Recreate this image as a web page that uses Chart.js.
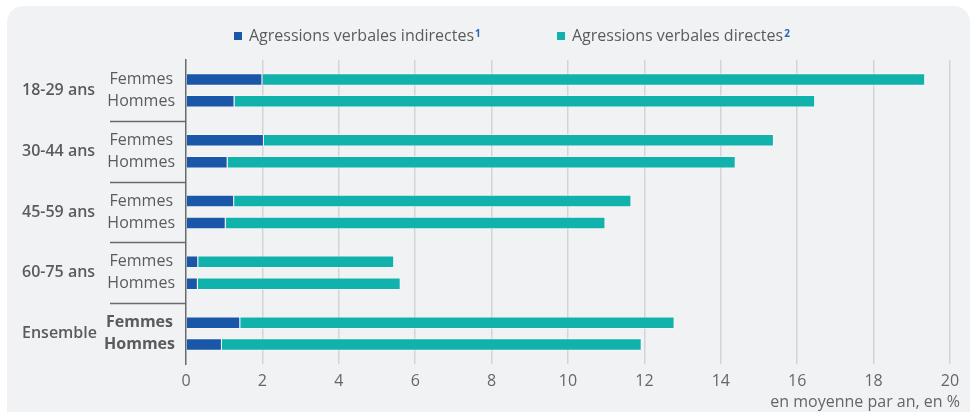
<!DOCTYPE html>
<html>
<head>
<meta charset="utf-8">
<script src="https://cdn.jsdelivr.net/npm/chart.js@4.4.1/dist/chart.umd.min.js"></script>
<style>
  html, body { margin: 0; padding: 0; background: #ffffff; }
  #wrap { position: relative; width: 972px; height: 412px; overflow: hidden; }
  #panel { position: absolute; left: 7px; top: 6px; width: 963px; height: 440px; background: #f1f2f4; border-radius: 16px; }
  #c { position: absolute; left: 0; top: 0; }
</style>
</head>
<body>
<div id="wrap">
  <div id="panel"></div>
  <canvas id="c" width="972" height="412"></canvas>
</div>
<script>
// ---- data ----
const ageGroups = ['18-29 ans', '30-44 ans', '45-59 ans', '60-75 ans', 'Ensemble'];
const sexLabels = ['Femmes', 'Hommes'];
const indirectFemmes = [2.00, 2.04, 1.26, 0.32, 1.42];
const directFemmes   = [17.35, 13.35, 10.40, 5.13, 11.37];
const indirectHommes = [1.27, 1.09, 1.04, 0.31, 0.94];
const directHommes   = [15.20, 13.30, 9.94, 5.31, 10.99];
const xTickValues = [0, 2, 4, 6, 8, 10, 12, 14, 16, 18, 20];
const seriesNames = ['Agressions verbales indirectes', 'Agressions verbales directes'];
const seriesNotes = ['1', '2'];
const axisTitle = 'en moyenne par an, en %';

// ---- styles ----
const colIndirect = '#1a57a8';
const colDirect = '#10b2ab';
const textCol = '#5b5b5b';
const FONT = "'Open Sans', 'DejaVu Sans', sans-serif";

const bold = (i) => i === ageGroups.length - 1;

const labelsPlugin = {
  id: 'groupLabels',
  afterDraw(chart) {
    const ctx = chart.ctx;
    const area = chart.chartArea;
    const y = chart.scales.y;
    const mF = chart.getDatasetMeta(0);
    const mH = chart.getDatasetMeta(2);
    ctx.save();
    // separators
    ctx.strokeStyle = '#6a6a6a';
    ctx.lineWidth = 1.5;
    for (let i = 0; i < ageGroups.length - 1; i++) {
      const yy = Math.round((y.getPixelForValue(i) + y.getPixelForValue(i + 1)) / 2) + 0.5;
      ctx.beginPath();
      ctx.moveTo(110, yy);
      ctx.lineTo(area.left, yy);
      ctx.stroke();
    }
    ctx.fillStyle = textCol;
    ctx.textBaseline = 'middle';
    for (let i = 0; i < ageGroups.length; i++) {
      const yc = y.getPixelForValue(i);
      ctx.textAlign = 'left';
      ctx.font = '600 16px ' + FONT;
      ctx.fillText(ageGroups[i], 22, yc);
      ctx.textAlign = 'right';
      ctx.font = (bold(i) ? '700 ' : '400 ') + '16px ' + FONT;
      ctx.fillText(sexLabels[0], 173, mF.data[i].y);
      ctx.fillText(sexLabels[1], 175, mH.data[i].y);
    }
    // axis title
    ctx.fillStyle = '#666666';
    ctx.textAlign = 'right';
    ctx.font = '400 16px ' + FONT;
    ctx.fillText(axisTitle, 960, 402);
    // legend
    const items = [
      { x: 234, color: colIndirect },
      { x: 557, color: colDirect }
    ];
    items.forEach((it, k) => {
      ctx.fillStyle = it.color;
      ctx.fillRect(it.x, 32, 8, 8);
      ctx.fillStyle = textCol;
      ctx.textAlign = 'left';
      ctx.textBaseline = 'middle';
      ctx.font = '400 16px ' + FONT;
      ctx.fillText(seriesNames[k], it.x + 15, 36);
      const w = ctx.measureText(seriesNames[k]).width;
      ctx.fillStyle = '#2a64b4';
      ctx.font = '700 10px ' + FONT;
      ctx.textBaseline = 'alphabetic';
      ctx.fillText(seriesNotes[k], it.x + 16 + w, 37);
    });
    ctx.restore();
  }
};

function build() {
  const border = 'rgba(255,255,255,0.45)';
  new Chart(document.getElementById('c'), {
    type: 'bar',
    data: {
      labels: ageGroups,
      datasets: [
        { label: seriesNames[0], data: indirectFemmes, backgroundColor: colIndirect, borderColor: border, borderWidth: 1, stack: 'F' },
        { label: seriesNames[1], data: directFemmes, backgroundColor: colDirect, borderColor: border, borderWidth: 1, stack: 'F' },
        { label: seriesNames[0], data: indirectHommes, backgroundColor: colIndirect, borderColor: border, borderWidth: 1, stack: 'H' },
        { label: seriesNames[1], data: directHommes, backgroundColor: colDirect, borderColor: border, borderWidth: 1, stack: 'H' }
      ]
    },
    options: {
      indexAxis: 'y',
      responsive: false,
      devicePixelRatio: 1,
      animation: false,
      categoryPercentage: 0.72,
      barPercentage: 0.57,
      layout: { padding: { top: 60, right: 22, left: 0, bottom: 0 } },
      plugins: { legend: { display: false }, tooltip: { enabled: false } },
      scales: {
        x: {
          stacked: true,
          min: 0, max: 20,
          afterBuildTicks: (s) => { s.ticks = xTickValues.map(v => ({ value: v })); },
          ticks: { color: '#666666', font: { family: FONT, size: 16, weight: '400' }, padding: 8 },
          grid: { color: (c) => c.tick && c.tick.value === 0 ? 'rgba(0,0,0,0)' : '#d3d4d7', lineWidth: 1.5, drawTicks: false },
          border: { display: false },
          title: { display: false },
          afterFit: (s) => { s.height = 48; }
        },
        y: {
          stacked: true,
          ticks: { display: false },
          grid: { display: false },
          border: { display: true, color: '#6a6a6a', width: 1.5 },
          afterFit: (s) => { s.width = 186; }
        }
      }
    },
    plugins: [labelsPlugin]
  });
}

Promise.all([
  document.fonts.load("400 16px 'Open Sans'"),
  document.fonts.load("600 16px 'Open Sans'"),
  document.fonts.load("700 16px 'Open Sans'")
]).then(build, build);
</script>
</body>
</html>
